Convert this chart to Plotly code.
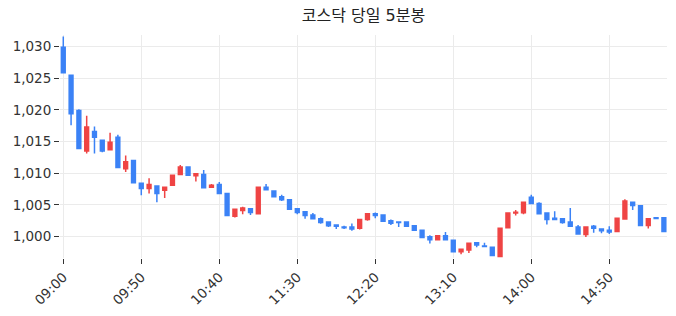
import plotly.graph_objects as go

times = [
    "09:00", "09:05", "09:10", "09:15", "09:20", "09:25", "09:30", "09:35", "09:40", "09:45",
    "09:50", "09:55", "10:00", "10:05", "10:10", "10:15", "10:20", "10:25", "10:30", "10:35",
    "10:40", "10:45", "10:50", "10:55", "11:00", "11:05", "11:10", "11:15", "11:20", "11:25",
    "11:30", "11:35", "11:40", "11:45", "11:50", "11:55", "12:00", "12:05", "12:10", "12:15",
    "12:20", "12:25", "12:30", "12:35", "12:40", "12:45", "12:50", "12:55", "13:00", "13:05",
    "13:10", "13:15", "13:20", "13:25", "13:30", "13:35", "13:40", "13:45", "13:50", "13:55",
    "14:00", "14:05", "14:10", "14:15", "14:20", "14:25", "14:30", "14:35", "14:40", "14:45",
    "14:50", "14:55", "15:00", "15:05", "15:10", "15:15", "15:20", "15:25",
]

open_ = [
    1029.9, 1025.5, 1019.9, 1013.5, 1016.6, 1015.2, 1013.7, 1015.7, 1010.7, 1012.0,
    1008.4, 1007.6, 1008.0, 1007.3, 1008.1, 1009.8, 1011.0, 1009.6, 1009.8, 1007.8,
    1008.2, 1006.8, 1003.2, 1004.1, 1004.4, 1003.6, 1007.8, 1007.2, 1006.3, 1005.8,
    1004.4, 1003.9, 1003.4, 1002.8, 1002.3, 1001.8, 1001.5, 1001.5, 1001.3, 1002.7,
    1003.6, 1003.4, 1002.5, 1002.3, 1002.3, 1001.7, 1001.0, 999.95, 999.5, 1000.1,
    999.4, 997.6, 997.85, 999.0, 998.5, 998.3, 996.85, 1001.4, 1003.7, 1003.75,
    1006.2, 1005.2, 1003.7, 1002.9, 1002.8, 1002.3, 1001.5, 1000.3, 1001.6, 1001.2,
    1001.0, 1000.8, 1002.75, 1005.4, 1004.85, 1001.75, 1002.95, 1002.95,
]
high = [
    1031.6, 1025.5, 1020.1, 1019.1, 1017.4, 1015.2, 1016.4, 1016.1, 1012.8, 1012.0,
    1008.4, 1009.2, 1008.0, 1007.8, 1009.7, 1011.3, 1011.0, 1010.0, 1010.5, 1008.3,
    1008.6, 1006.8, 1004.3, 1004.7, 1004.4, 1007.8, 1008.3, 1007.2, 1006.6, 1005.8,
    1004.5, 1003.9, 1003.7, 1003.0, 1002.3, 1001.8, 1001.7, 1002.05, 1002.75, 1003.6,
    1003.8, 1003.4, 1002.7, 1002.3, 1002.3, 1001.7, 1001.0, 1000.2, 1000.2, 1000.7,
    999.4, 998.1, 998.95, 999.0, 999.0, 998.3, 1001.3, 1003.7, 1004.2, 1005.4,
    1006.6, 1005.4, 1003.7, 1004.0, 1002.8, 1004.5, 1001.8, 1001.5, 1001.8, 1001.2,
    1001.6, 1002.9, 1005.9, 1005.4, 1004.85, 1002.8, 1002.95, 1002.95,
]
low = [
    1025.9, 1017.6, 1013.9, 1013.1, 1013.1, 1013.3, 1013.7, 1010.9, 1010.2, 1008.5,
    1006.5, 1006.8, 1005.4, 1006.1, 1008.1, 1009.7, 1009.7, 1008.7, 1007.7, 1007.7,
    1006.8, 1003.3, 1003.0, 1003.5, 1003.4, 1003.6, 1007.4, 1006.3, 1005.6, 1004.2,
    1003.5, 1002.8, 1002.8, 1002.0, 1001.5, 1001.2, 1001.2, 1000.9, 1001.1, 1002.5,
    1002.9, 1002.4, 1001.8, 1001.5, 1001.6, 1001.0, 999.75, 998.9, 999.5, 999.5,
    997.6, 997.2, 997.4, 998.3, 998.4, 997.0, 996.85, 1001.4, 1003.3, 1003.5,
    1005.2, 1003.6, 1001.9, 1002.7, 1002.0, 1001.6, 1000.4, 999.9, 1000.6, 1000.5,
    1000.4, 1000.8, 1002.75, 1004.2, 1001.75, 1001.25, 1002.85, 1000.7,
]
close = [
    1025.9, 1019.4, 1013.9, 1017.3, 1015.7, 1013.5, 1014.9, 1010.9, 1011.8, 1008.5,
    1007.6, 1008.2, 1006.8, 1007.8, 1009.7, 1011.0, 1009.7, 1009.9, 1007.7, 1008.1,
    1006.8, 1003.3, 1004.3, 1004.5, 1003.8, 1007.8, 1007.4, 1006.3, 1005.8, 1004.3,
    1003.8, 1003.3, 1002.8, 1002.2, 1001.7, 1001.6, 1001.4, 1001.2, 1002.7, 1003.6,
    1003.3, 1002.4, 1002.1, 1002.2, 1001.6, 1001.0, 999.85, 999.5, 1000.1, 999.5,
    997.6, 998.0, 998.95, 998.65, 998.4, 997.0, 1001.3, 1003.7, 1003.85, 1005.4,
    1005.2, 1003.6, 1002.7, 1002.7, 1002.2, 1001.6, 1000.4, 1001.5, 1001.3, 1000.9,
    1000.7, 1002.9, 1005.6, 1004.9, 1001.75, 1002.8, 1002.85, 1000.8,
]

tick_labels = ["09:00", "09:50", "10:40", "11:30", "12:20", "13:10", "14:00", "14:50"]
y_ticks = [1000, 1005, 1010, 1015, 1020, 1025, 1030]

DAY = "2024-01-02 "
x = [DAY + t for t in times]

UP = "#EF4444"
DOWN = "#3B82F6"

fig = go.Figure(go.Candlestick(
    x=x, open=open_, high=high, low=low, close=close,
    increasing=dict(line=dict(color=UP, width=1.5), fillcolor=UP),
    decreasing=dict(line=dict(color=DOWN, width=1.5), fillcolor=DOWN),
    showlegend=False,
))

font_family = "DejaVu Sans, Noto Sans CJK KR, sans-serif"
fig.update_layout(
    width=676, height=316,
    margin=dict(l=60, r=9, t=35, b=58),
    paper_bgcolor="white", plot_bgcolor="white",
    font=dict(family=font_family, size=13.5, color="#333333"),
    title=dict(text="코스닥 당일 5분봉", x=0.5, xref="paper", xanchor="center",
               y=1 - 15 / 316, yref="container", yanchor="middle",
               font=dict(family=font_family, size=16, color="#222222")),
    xaxis=dict(
        type="date",
        range=[DAY + "08:57:54", DAY + "15:27:00"],
        tickvals=[DAY + t for t in tick_labels], ticktext=tick_labels,
        tickangle=-45, ticks="outside", ticklen=5, tickcolor="#333333",
        showgrid=True, gridcolor="#EBEBEB", gridwidth=1,
        showline=False, zeroline=False,
        rangeslider=dict(visible=False),
    ),
    yaxis=dict(
        range=[996.6, 1031.85],
        tickvals=y_ticks, tickformat=",",
        ticks="outside", ticklen=5, tickcolor="#333333",
        showgrid=True, gridcolor="#EBEBEB", gridwidth=1,
        showline=False, zeroline=False,
    ),
)

fig.write_html("out.html")
